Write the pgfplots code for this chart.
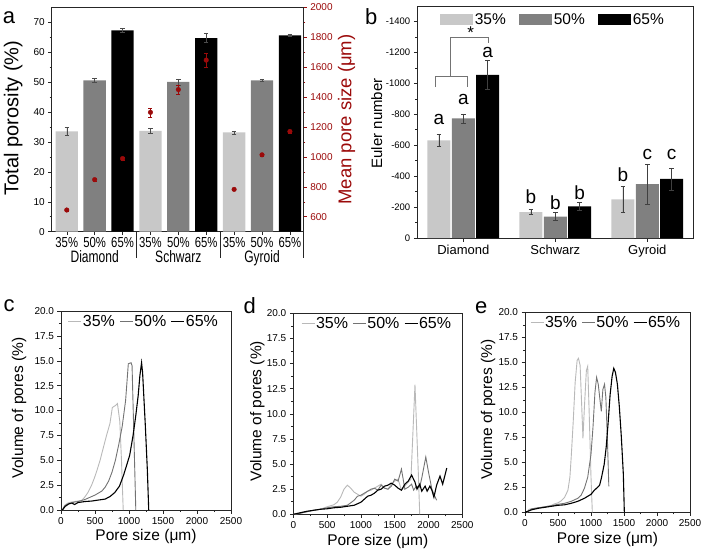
\documentclass[border=0pt]{standalone}
\usepackage{fontspec}
\setmainfont{Liberation Sans}
\usepackage{graphicx}
\usepackage{pgfplots}
\pgfplotsset{compat=1.18}

\definecolor{c35}{RGB}{200,200,200}
\definecolor{c50}{RGB}{128,128,128}
\definecolor{l35}{RGB}{185,185,185}
\definecolor{l50}{RGB}{115,115,115}
\definecolor{dred}{RGB}{155,10,10}
\newcommand\fs[1]{\fontsize{#1}{#1}\selectfont}
\newcommand\sq[1]{\scalebox{0.78}[1]{#1}}

\pgfplotsset{
  base/.style={scale only axis, anchor=south west, tick align=outside,
    axis line style={black!85, line width=0.6pt},
    tick style={black!85, line width=0.5pt},
    major tick length=3.5pt, minor tick length=2pt,
    /pgf/number format/assume math mode=true,
    /pgf/number format/1000 sep={},
    tick label style={font=\fs{10}},
  },
  swatch/.style={legend image code/.code={\fill[##1] (0pt,-5.5pt) rectangle (33pt,5.5pt);}},
  pore/.style={base, width=168pt, height=200pt,
    xmin=0, xmax=2500, ymin=0, ymax=20,
    xtick={0,500,...,2500}, minor x tick num=1,
    ytick={0,2.5,...,20}, minor y tick num=1,
    ytick pos=left, xtick pos=bottom,
    yticklabel style={/pgf/number format/.cd, fixed, fixed zerofill, precision=1},
    xlabel={Pore size (μm)}, ylabel={Volume of pores (\%)},
    label style={font=\fs{15.5}},
    xlabel style={at={(axis description cs:0.5,-0.135)}, anchor=center},
    legend columns=3,
    legend style={draw=none, fill=none, anchor=north west, font=\fs{16},
      inner sep=0pt, nodes={inner sep=1pt},
      /tikz/every even column/.append style={column sep=3.5pt}},
    legend image code/.code={\draw[##1] (0pt,0pt) -- (13pt,0pt);},
  },
}

\begin{document}
\begin{tikzpicture}
\useasboundingbox (0pt,0pt) rectangle (704pt,550pt);

% ---- a: porosity bars
\begin{axis}[base, at={(51.7pt,318.3pt)}, width=251.6pt, height=224.4pt,
  clip=false,
  xmin=0.46, xmax=9.48, ymin=0, ymax=75,
  ytick={0,10,...,70}, minor y tick num=1,
  xtick={1,...,9}, ytick pos=left, xtick pos=bottom,
  xticklabels={\sq{35\%},\sq{50\%},\sq{65\%},\sq{35\%},\sq{50\%},\sq{65\%},\sq{35\%},\sq{50\%},\sq{65\%}},
  xticklabel style={font=\fs{14.5}, yshift=1pt},
  ylabel={Total porosity (\%)},
  ylabel style={font=\fs{20}, at={(axis description cs:-0.153,0.507)}, anchor=center},
  ybar, bar width=0.8, bar shift=0pt,
  error bars/y dir=both, error bars/y explicit,
  error bars/error bar style={black!70, line width=0.5pt},
  error bars/error mark options={rotate=90, mark size=2.2pt, black!70, line width=0.5pt},
]
\addplot[fill=c35, draw=none] coordinates {(1,33.5) +- (0,1.3) (4,33.7) +- (0,0.8) (7,33.2) +- (0,0.5)};
\addplot[fill=c50, draw=none] coordinates {(2,50.6) +- (0,0.6) (5,50.1) +- (0,1.0) (8,50.6) +- (0,0.2)};
\addplot[fill=black, draw=none] coordinates {(3,67.3) +- (0,0.7) (6,64.7) +- (0,1.5) (9,65.6) +- (0,0.3)};
\draw[black!85, line width=0.6pt] (axis cs:3.5,0) -- ++(0pt,-26pt);
\draw[black!85, line width=0.6pt] (axis cs:6.5,0) -- ++(0pt,-26pt);
\draw[black!85, line width=0.6pt] (rel axis cs:1,0) -- ++(0pt,-26pt);
\node[font=\fs{16.5}, inner sep=0pt, anchor=base] at ([yshift=-31pt]axis cs:2,0) {\scalebox{0.73}[1]{Diamond}};
\node[font=\fs{16.5}, inner sep=0pt, anchor=base] at ([yshift=-31pt]axis cs:5,0) {\scalebox{0.73}[1]{Schwarz}};
\node[font=\fs{16.5}, inner sep=0pt, anchor=base] at ([yshift=-31pt]axis cs:8,0) {\scalebox{0.73}[1]{Gyroid}};
\end{axis}

\begin{axis}[base, at={(51.7pt,318.3pt)}, width=251.6pt, height=224.4pt,
  xmin=0.46, xmax=9.48, ymin=500, ymax=2000,
  axis x line=none, axis y line*=right,
  ytick={600,800,...,2000}, minor y tick num=1,
  y tick style={dred}, yticklabel style={dred},
  ylabel={Mean pore size (μm)},
  ylabel style={dred, font=\fs{18.5}, at={(axis description cs:1.172,0.5)}, anchor=center},
]
\addplot[only marks, mark=*, mark size=2.3pt, dred,
  error bars/.cd, y dir=both, y explicit,
  error bar style={dred, line width=0.5pt},
  error mark options={rotate=90, mark size=2pt, dred, line width=0.5pt}]
  coordinates {(1,645) +- (0,8) (2,848) +- (0,8) (3,989) +- (0,10)
               (4,1298) +- (0,30) (5,1450) +- (0,31) (6,1647) +- (0,47)
               (7,783) +- (0,8) (8,1014) +- (0,8) (9,1170) +- (0,10)};
\end{axis}

% ---- b: Euler number
\begin{axis}[base, at={(417.3pt,312pt)}, width=276pt, height=232pt,
  xmin=0.5, xmax=3.5, ymin=-1500, ymax=0, y dir=reverse,
  ytick={-1400,-1200,...,0}, minor y tick num=1,
  ytick pos=left, xtick pos=bottom,
  xtick={1,2,3}, xticklabels={Diamond,Schwarz,Gyroid},
  xticklabel style={font=\fs{13}},
  yticklabel style={font=\fs{9.5}},
  ylabel={Euler number},
  ylabel style={font=\fs{15}, at={(axis description cs:-0.147,0.494)}, anchor=center},
  ybar, bar width=0.25, bar shift=0pt,
  error bars/y dir=both, error bars/y explicit,
  error bars/error bar style={black!75, line width=0.5pt},
  error bars/error mark options={rotate=90, mark size=2.2pt, black!75, line width=0.5pt},
  legend columns=3,
  legend style={draw=none, fill=none, at={(axis description cs:0.07,0.985)}, anchor=north west,
    font=\fs{15.5}, /tikz/every even column/.append style={column sep=11pt}},
]
\addplot[fill=c35, draw=none, swatch]
  coordinates {(0.735,-631) +- (0,38) (1.735,-168) +- (0,17) (2.735,-250) +- (0,82)};
\addplot[fill=c50, draw=none, swatch]
  coordinates {(1,-773) +- (0,30) (2,-138) +- (0,26) (3,-348) +- (0,132)};
\addplot[fill=black, draw=none, swatch]
  coordinates {(1.265,-1054) +- (0,95) (2.265,-205) +- (0,28) (3.265,-382) +- (0,71)};
\legend{35\%,50\%,65\%}
\node[font=\fs{19}] at (axis cs:0.735,-765) {a};
\node[font=\fs{19}] at (axis cs:1,-898) {a};
\node[font=\fs{19}] at (axis cs:1.265,-1201) {a};
\node[font=\fs{19}] at (axis cs:1.735,-268) {b};
\node[font=\fs{19}] at (axis cs:2,-229) {b};
\node[font=\fs{19}] at (axis cs:2.265,-294) {b};
\node[font=\fs{19}] at (axis cs:2.735,-408) {b};
\node[font=\fs{19}] at (axis cs:3,-538) {c};
\node[font=\fs{19}] at (axis cs:3.265,-538) {c};
\draw[black!55, line width=0.6pt] (axis cs:0.691,-976) -- (axis cs:0.691,-1045) -- (axis cs:1.041,-1045) -- (axis cs:1.041,-976);
\draw[black!55, line width=0.6pt] (axis cs:0.864,-1045) -- (axis cs:0.864,-1300) -- (axis cs:1.275,-1300) -- (axis cs:1.275,-1261);
\node[font=\fs{17}] at (axis cs:1.08,-1330) {*};
\end{axis}

% ---- c: Diamond distribution
\begin{axis}[pore, at={(61pt,40pt)}, width=170pt, height=199pt,
  ylabel style={at={(axis description cs:-0.247,0.513)}, anchor=center},
  legend style={at={(axis description cs:0.04,0.985)}}]
\addplot[l35, line width=0.9pt] coordinates {(30,0)(60,0.5)(100,0.7)(150,0.8)(200,0.85)(250,0.9)(300,0.95)(350,1.3)(400,1.8)(450,2.5)(490,3.2)(525,3.9)(575,5.0)(620,6.2)(670,7.5)(720,8.7)(755,10.3)(800,10.5)(830,10.7)(865,8.9)(890,4.9)(915,0)};
\addplot[l50, line width=0.9pt] coordinates {(20,0)(50,0.4)(100,0.6)(150,0.7)(200,0.8)(250,0.85)(300,0.95)(350,1.05)(400,1.2)(450,1.35)(500,1.5)(550,1.7)(600,1.9)(650,2.3)(700,2.9)(750,3.8)(800,5.0)(850,6.6)(900,8.4)(950,11.0)(990,14.7)(1030,14.8)(1045,14.5)(1100,0)};
\addplot[black, line width=1.1pt] coordinates {(20,0)(60,0.35)(110,0.6)(160,0.7)(200,0.55)(250,0.75)(350,0.85)(450,0.9)(550,1.0)(650,1.1)(720,1.35)(790,1.75)(860,2.4)(920,3.5)(970,4.6)(1010,5.5)(1060,7.5)(1100,9.5)(1135,11.5)(1160,13.5)(1185,14.8)(1200,13.8)(1240,8.5)(1270,4)(1290,0)};
\legend{35\%,50\%,65\%}
\end{axis}

% ---- d: Schwarz distribution
\begin{axis}[pore, at={(293.3pt,35.7pt)}, width=169pt, height=201pt,
  ylabel style={at={(axis description cs:-0.212,0.513)}, anchor=center},
  legend style={at={(axis description cs:0.045,0.985)}}]
\addplot[l35, line width=0.9pt] coordinates {(0,0)(100,0.1)(200,0.25)(300,0.4)(400,0.5)(500,0.75)(550,0.85)(600,0.95)(650,1.2)(700,1.7)(750,2.5)(800,2.9)(850,2.6)(900,2.2)(950,2.0)(1000,1.8)(1050,2.0)(1100,2.3)(1150,2.4)(1200,2.6)(1250,2.8)(1300,3.0)(1350,2.6)(1400,2.5)(1450,3.0)(1500,3.3)(1550,3.5)(1600,2.4)(1650,2.8)(1700,3.2)(1740,3.5)(1800,12.9)(1850,4)(1870,0)};
\addplot[l50, line width=0.9pt] coordinates {(0,0)(100,0.1)(200,0.25)(300,0.4)(400,0.5)(500,0.65)(600,0.75)(700,0.8)(800,0.9)(900,1.4)(950,1.8)(1000,1.9)(1050,2.1)(1100,2.3)(1150,2.5)(1200,2.6)(1250,2.4)(1300,2.9)(1350,2.6)(1400,2.5)(1450,2.8)(1500,3.5)(1550,3.3)(1600,4.5)(1650,2.5)(1700,2.7)(1750,3.0)(1780,2.4)(1820,2.8)(1870,2.7)(1900,3.6)(1960,5.7)(2000,4.2)(2050,2.5)(2080,2.0)(2120,1.4)};
\addplot[black, line width=1.1pt] coordinates {(0,0)(100,0.15)(200,0.3)(300,0.4)(400,0.5)(500,0.55)(600,0.65)(700,0.7)(800,0.8)(900,0.9)(1000,1.2)(1050,1.5)(1100,1.8)(1150,1.9)(1200,2.1)(1250,2.4)(1300,2.5)(1350,2.8)(1400,2.9)(1450,3.1)(1500,2.9)(1550,2.6)(1600,2.4)(1650,3.0)(1700,3.3)(1750,3.9)(1800,3.2)(1830,2.5)(1870,3.0)(1900,2.3)(1950,2.8)(1980,2.3)(2020,2.8)(2050,2.4)(2080,1.7)(2120,2.9)(2170,3.8)(2210,3.0)(2270,4.6)};
\legend{35\%,50\%,65\%}
\end{axis}

% ---- e: Gyroid distribution
\begin{axis}[pore, at={(525pt,37.7pt)}, width=165pt, height=200pt,
  ylabel style={at={(axis description cs:-0.224,0.513)}, anchor=center},
  legend style={at={(axis description cs:0.03,0.985)}}]
\addplot[l35, line width=0.9pt] coordinates {(30,0)(60,0.3)(100,0.35)(200,0.45)(300,0.55)(400,0.7)(450,0.85)(500,0.95)(550,1.15)(600,1.5)(650,2.2)(680,3.5)(700,5.5)(730,9)(760,13)(790,15.2)(810,15.4)(835,14.7)(860,10.5)(878,7.4)(900,10.5)(930,14.2)(950,14.6)(970,10.5)(1000,3.5)(1020,0)};
\addplot[l50, line width=0.9pt] coordinates {(30,0)(100,0.35)(200,0.45)(300,0.55)(400,0.65)(500,0.8)(600,0.9)(700,1.1)(800,1.4)(850,1.7)(900,2.4)(950,3.5)(1000,5.8)(1030,8.5)(1060,12)(1085,13.5)(1110,12.8)(1140,11)(1156,10.1)(1180,12.3)(1205,12.8)(1225,11.5)(1250,7)(1270,2.6)};
\addplot[black, line width=1.1pt] coordinates {(0,0)(100,0.25)(200,0.4)(300,0.5)(400,0.6)(500,0.7)(600,0.75)(700,0.9)(800,1.1)(900,1.4)(1000,1.8)(1050,2.2)(1100,2.5)(1130,2.7)(1160,3.5)(1200,4.8)(1230,6.5)(1260,9)(1290,11.8)(1320,13.6)(1345,14.4)(1370,14)(1400,12.8)(1430,10.5)(1460,7.5)(1490,3.8)(1505,0)};
\legend{35\%,50\%,65\%}
\end{axis}

% panel letters
\node[font=\fs{22}, inner sep=0pt, anchor=base west] at (2.7pt,526pt) {a};
\node[font=\fs{22}, inner sep=0pt, anchor=base west] at (365pt,525pt) {b};
\node[font=\fs{22}, inner sep=0pt, anchor=base west] at (3.3pt,238.3pt) {c};
\node[font=\fs{22}, inner sep=0pt, anchor=base west] at (243.3pt,236.7pt) {d};
\node[font=\fs{22}, inner sep=0pt, anchor=base west] at (475pt,236.7pt) {e};
\end{tikzpicture}
\end{document}
